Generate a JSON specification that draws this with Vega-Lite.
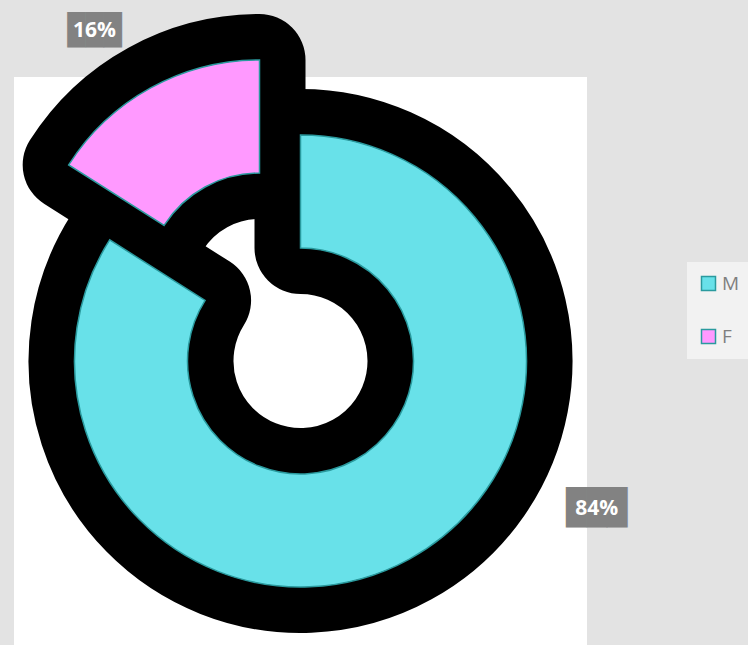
{
  "$schema": "https://vega.github.io/schema/vega-lite/v6.json",
  "width": 573,
  "height": 568,
  "autosize": {"type": "none"},
  "padding": {"left": 14, "top": 77, "right": 161, "bottom": 0},
  "background": "#e3e3e3",
  "view": {"fill": "white", "stroke": null},
  "data": {"values": [
    {"sex": "M", "value": 84, "label": "84%"},
    {"sex": "F", "value": 16, "label": "16%"}
  ]},
  "layer": [
    {
      "mark": {"type": "arc", "outerRadius": 226, "innerRadius": 113, "fill": "black", "stroke": "black", "strokeWidth": 92, "strokeJoin": "round"},
      "encoding": {
        "theta": {"field": "value", "type": "quantitative", "stack": true},
        "order": {"field": "sex", "sort": "descending"},
        "detail": {"field": "sex"},
        "opacity": {"condition": {"test": "datum.sex === 'M'", "value": 1}, "value": 0}
      }
    },
    {
      "mark": {"type": "arc", "outerRadius": 226, "innerRadius": 113, "fill": "black", "stroke": "black", "strokeWidth": 92, "strokeJoin": "round", "xOffset": -41, "yOffset": -75},
      "encoding": {
        "theta": {"field": "value", "type": "quantitative", "stack": true},
        "order": {"field": "sex", "sort": "descending"},
        "detail": {"field": "sex"},
        "opacity": {"condition": {"test": "datum.sex === 'F'", "value": 1}, "value": 0}
      }
    },
    {
      "mark": {"type": "arc", "outerRadius": 226, "innerRadius": 113, "stroke": "#2a9a9e", "strokeWidth": 1.5},
      "encoding": {
        "theta": {"field": "value", "type": "quantitative", "stack": true},
        "order": {"field": "sex", "sort": "descending"},
        "color": {
          "field": "sex", "type": "nominal",
          "scale": {"domain": ["M", "F"], "range": ["#68e1e9", "#ff99ff"]},
          "legend": {
            "title": null, "orient": "none", "legendX": 673, "legendY": 185,
            "fillColor": "#f2f2f2", "padding": 12, "symbolType": "square", "symbolSize": 196,
            "symbolStrokeColor": "#2a9a9e", "symbolStrokeWidth": 1.5, "symbolOpacity": 1,
            "labelFontSize": 19, "labelColor": "#7f7f7f", "labelFont": "Open Sans", "labelOffset": 4,
            "rowPadding": 32
          }
        },
        "opacity": {"condition": {"test": "datum.sex === 'M'", "value": 1}, "value": 0}
      }
    },
    {
      "mark": {"type": "arc", "outerRadius": 226, "innerRadius": 113, "stroke": "#2a9a9e", "strokeWidth": 1.5, "xOffset": -41, "yOffset": -75},
      "encoding": {
        "theta": {"field": "value", "type": "quantitative", "stack": true},
        "order": {"field": "sex", "sort": "descending"},
        "color": {"field": "sex", "type": "nominal"},
        "opacity": {"condition": {"test": "datum.sex === 'F'", "value": 1}, "value": 0}
      }
    },
    {
      "transform": [{"filter": "datum.sex === 'F'"}],
      "layer": [
        {"mark": {"type": "text", "text": "███", "font": "DejaVu Sans Mono", "fontSize": 30, "color": "#828282", "theta": 5.725, "radius": 389, "baseline": "middle", "align": "center"}, "encoding": {}},
        {"mark": {"type": "text", "font": "Open Sans", "fontWeight": "bold", "fontSize": 21, "color": "white", "theta": 5.725, "radius": 389, "baseline": "middle", "align": "center"}, "encoding": {"text": {"field": "label"}}}
      ]
    },
    {
      "transform": [{"filter": "datum.sex === 'M'"}],
      "layer": [
        {"mark": {"type": "text", "text": "███", "font": "DejaVu Sans Mono", "fontSize": 34, "color": "#828282", "theta": 2.034, "radius": 331, "baseline": "middle", "align": "center"}, "encoding": {}},
        {"mark": {"type": "text", "font": "Open Sans", "fontWeight": "bold", "fontSize": 21, "color": "white", "theta": 2.034, "radius": 331, "baseline": "middle", "align": "center"}, "encoding": {"text": {"field": "label"}}}
      ]
    }
  ]
}
